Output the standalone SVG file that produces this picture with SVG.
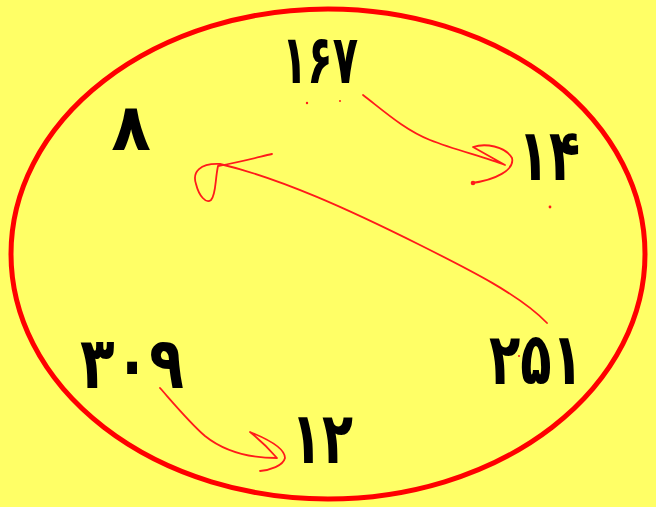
<svg xmlns="http://www.w3.org/2000/svg" width="656" height="507" viewBox="0 0 656 507">
<style>
.n{font-family:"DejaVu Sans",sans-serif;font-weight:bold;font-size:72px;fill:#000;text-anchor:middle}
.c{fill:none;stroke:#ff1a1a;stroke-width:1.8;stroke-linecap:round;stroke-linejoin:round}
.d{fill:#ff1a1a}
</style>
<rect width="656" height="507" fill="#ffff66"/>
<ellipse cx="328" cy="254" rx="317" ry="245" fill="none" stroke="#ff0000" stroke-width="5"/>
<g id="n167"><text class="n" x="320" y="83" style="font-size:68px" textLength="76" lengthAdjust="spacingAndGlyphs">۱۶۷</text></g>
<g id="n8"><text class="n" x="131" y="150" style="font-size:65px">۸</text></g>
<g id="n14"><text class="n" x="549" y="180" textLength="62" lengthAdjust="spacingAndGlyphs">۱۴</text></g>
<g id="n251"><text class="n" x="536" y="384" textLength="94" lengthAdjust="spacingAndGlyphs">۲۵۱</text></g>
<g id="n309"><text class="n" x="132" y="388" textLength="104" lengthAdjust="spacingAndGlyphs">۳۰۹</text></g>
<g id="n12"><text class="n" x="322" y="463" textLength="62" lengthAdjust="spacingAndGlyphs">۱۲</text></g>
<g id="connectors">
<path class="c" d="M363 95 C385 112 405 130 430 140 C455 150 485 157 505 165 L473 147 C485 143 505 146 512 158 C515 170 495 180 472 183"/>
<circle class="d" cx="473" cy="183" r="2.3"/>
<path class="c" d="M547 323 C520 295 470 270 420 245 C350 210 280 178 220 164 C200 163 192 172 196 184 C199 196 206 204 211 200 C216 195 215 180 218 166 C240 162 255 158 272 154"/>
<path class="c" d="M160 388 C175 405 190 423 205 436 C225 452 250 458 277 458 C270 450 260 440 250 432 C265 438 285 448 285 458 C283 466 270 470 260 471"/>
<circle class="d" cx="307" cy="103" r="1.2"/>
<circle class="d" cx="340" cy="101" r="1"/>
<circle class="d" cx="550" cy="207" r="1.4"/>
<circle class="d" cx="519" cy="356" r="1"/>
</g>
</svg>
